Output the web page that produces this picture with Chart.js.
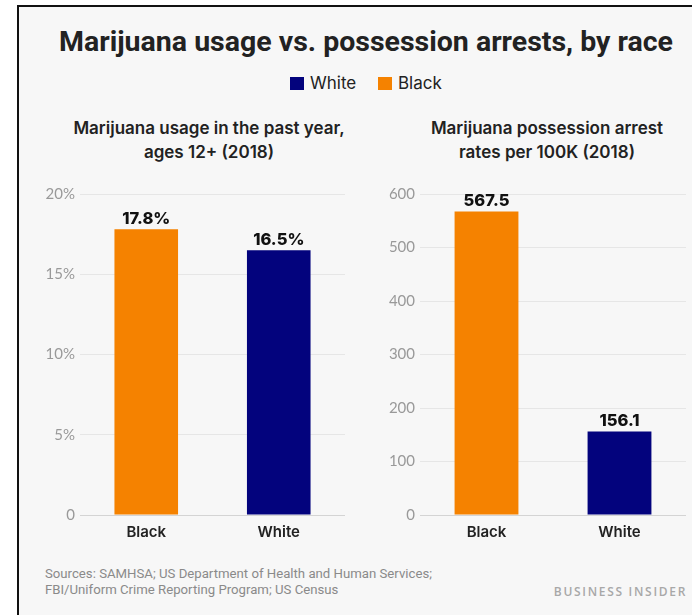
<!DOCTYPE html>
<html>
<head>
<meta charset="utf-8">
<script src="https://cdn.jsdelivr.net/npm/chart.js@4.4.0/dist/chart.umd.min.js"></script>
<style>
  html, body { margin: 0; padding: 0; background: #ffffff; }
  body { width: 692px; height: 615px; position: relative; overflow: hidden; font-family: 'Inter', 'Liberation Sans', sans-serif; }
  #frame { position: absolute; left: 17px; top: 5px; width: 680px; height: 620px; background: #f7f7f7; border-left: 2px solid #111; border-top: 2px solid #111; }
  .abs { position: absolute; }
  #title { left: 0; width: 732px; top: 27px; text-align: center; font-family: 'Roboto', sans-serif; font-weight: 700; font-size: 28.5px; line-height: 30px; color: #222; }
  .sq { width: 14px; height: 13px; }
  .leg { font-size: 17px; line-height: 22px; color: #222; top: 72px; }
  .sub { width: 330px; text-align: center; top: 116px; font-size: 17px; font-weight: 600; line-height: 24px; color: #222; }
  #sources { left: 45px; top: 566px; font-family: 'Roboto', sans-serif; font-size: 13.2px; line-height: 16px; color: #8a8a8a; }
  #brand { right: 5px; top: 583px; font-family: 'Open Sans', sans-serif; font-size: 12px; font-weight: 600; letter-spacing: 1.7px; color: #a8a8a8; }
  canvas { position: absolute; }
</style>
</head>
<body>
<div id="frame"></div>
<div id="title" class="abs">Marijuana usage vs. possession arrests, by race</div>
<div class="abs sq" style="left:290px; top:77px; background:#03037D;"></div>
<div class="abs leg" style="left:310px;">White</div>
<div class="abs sq" style="left:378px; top:77px; background:#F58200;"></div>
<div class="abs leg" style="left:398px;">Black</div>
<div class="abs sub" style="left:44px;">Marijuana usage in the past year,<br>ages 12+ (2018)</div>
<div class="abs sub" style="left:382px;">Marijuana possession arrest<br>rates per 100K (2018)</div>
<canvas id="usageChart" width="325" height="370" style="left:20px; top:180px;"></canvas>
<canvas id="arrestChart" width="335" height="370" style="left:355px; top:180px;"></canvas>
<div id="sources" class="abs">Sources: SAMHSA; US Department of Health and Human Services;<br>FBI/Uniform Crime Reporting Program; US Census</div>
<div id="brand" class="abs">BUSINESS INSIDER</div>

<script>
// --- Data ---
const categories = ['Black', 'White'];
const usageValues = [17.8, 16.5];      // % used marijuana in past year
const arrestValues = [567.5, 156.1];   // possession arrests per 100K
const barColors = ['#F58200', '#03037D'];

// --- Value labels above bars ---
const valueLabels = {
    id: 'valueLabels',
    afterDatasetsDraw(chart, args, opts) {
        const ctx = chart.ctx;
        const meta = chart.getDatasetMeta(0);
        ctx.save();
        ctx.font = "800 16.5px 'Inter', sans-serif";
        ctx.fillStyle = '#111';
        ctx.textAlign = 'center';
        ctx.textBaseline = 'middle';
        meta.data.forEach((bar, i) => {
            const v = chart.data.datasets[0].data[i];
            ctx.fillText(opts.format(v), bar.x, bar.y - 10);
        });
        ctx.restore();
    }
};

function makeChart(id, values, max, step, yWidth, padRight, fmtTick, fmtLabel) {
    return new Chart(document.getElementById(id), {
        type: 'bar',
        data: {
            labels: categories,
            datasets: [{
                data: values,
                backgroundColor: barColors,
                categoryPercentage: 1,
                barPercentage: 0.48
            }]
        },
        options: {
            responsive: false,
            animation: false,
            layout: { padding: { top: 14, right: padRight, left: 0, bottom: 0 } },
            plugins: {
                legend: { display: false },
                tooltip: { enabled: false },
                valueLabels: { format: fmtLabel }
            },
            scales: {
                x: {
                    grid: { display: false, drawTicks: false },
                    border: { display: false },
                    ticks: {
                        padding: 8,
                        color: '#222',
                        font: { family: 'Inter', size: 15, weight: '600' }
                    },
                    afterFit(scale) { scale.height = 35; }
                },
                y: {
                    min: 0,
                    max: max,
                    grid: {
                        drawTicks: false,
                        color: ctx => ctx.tick && ctx.tick.value === 0 ? '#d4d4d4' : '#e6e6e6'
                    },
                    border: { display: false },
                    ticks: {
                        stepSize: step,
                        padding: 5,
                        color: '#999',
                        font: { family: 'Lato', size: 15 },
                        callback: fmtTick
                    },
                    afterFit(scale) { scale.width = yWidth; }
                }
            }
        },
        plugins: [valueLabels]
    });
}

makeChart('usageChart', usageValues, 20, 5, 60, 0,
    v => v === 0 ? '0' : v + '%',
    v => v.toFixed(1) + '%');

makeChart('arrestChart', arrestValues, 600, 100, 65, 4,
    v => String(v),
    v => v.toFixed(1));
</script>
</body>
</html>
